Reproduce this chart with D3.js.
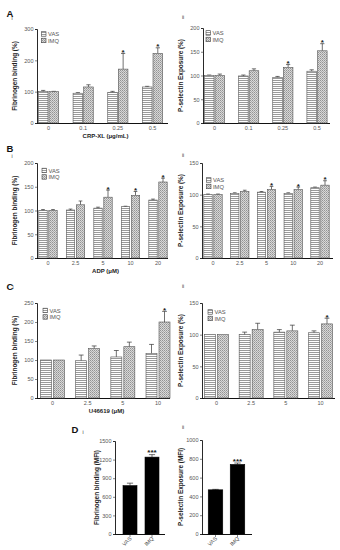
<!DOCTYPE html>
<html>
<head>
<meta charset="utf-8">
<script src="https://cdn.jsdelivr.net/npm/d3@7"></script>
<style>
  body { margin: 0; background: #fff; }
  svg { display: block; font-family: "Liberation Sans", Arial, sans-serif; }
</style>
</head>
<body>
<svg id="chart" width="340" height="550"></svg>
<script>
// categories
var crpDoses = ['0', '0.1', '0.25', '0.5'];
var adpDoses = ['0', '2.5', '5', '10', '20'];
var u4Doses = ['0', '2.5', '5', '10'];
var groups = ['VAS', 'IMQ'];

// A: CRP-XL
var aFibVas = [100, 95, 98, 115], aFibVasErr = [4, 2, 3, 2];
var aFibImq = [100, 115, 172, 222], aFibImqErr = [1, 7, 50, 18];
var aFibStar = ['', '', '*', '*'];
var aPselVas = [100, 99, 96, 109], aPselVasErr = [1, 2, 2, 3];
var aPselImq = [100, 110, 117, 152], aPselImqErr = [3, 4, 6, 15];
var aPselStar = ['', '', '*', '*'];

// B: ADP
var bFibVas = [100, 101, 105, 108, 122], bFibVasErr = [2, 2, 2, 1, 2];
var bFibImq = [100, 112, 128, 132, 160], bFibImqErr = [2, 8, 15, 8, 8];
var bFibStar = ['', '', '*', '*', '*'];
var bPselVas = [100, 102, 104, 102, 111], bPselVasErr = [1, 1, 1, 1, 1];
var bPselImq = [100, 105, 108, 108, 115], bPselImqErr = [1, 2, 5, 4, 7];
var bPselStar = ['', '', '*', '*', '*'];

// C: U46619
var cFibVas = [100, 98, 108, 117], cFibVasErr = [0, 15, 17, 24];
var cFibImq = [100, 130, 135, 200], cFibImqErr = [0, 7, 12, 28];
var cFibStar = ['', '', '', '*'];
var cPselVas = [100, 100, 104, 103], cPselVasErr = [0, 4, 4, 3];
var cPselImq = [100, 108, 106, 117], cPselImqErr = [0, 10, 9, 9];
var cPselStar = ['', '', '', '*'];

// D: MFI
var dFib = [780, 1240], dFibErr = [40, 40], dFibStar = ['', '***'];
var dPsel = [470, 740], dPselErr = [5, 15], dPselStar = ['', '***'];

var svg = d3.select('#chart');
var defs = svg.append('defs');

// horizontal stripes for VAS
var pv = defs.append('pattern').attr('id', 'vas').attr('patternUnits', 'userSpaceOnUse')
  .attr('width', 4).attr('height', 2);
pv.append('rect').attr('width', 4).attr('height', 2).attr('fill', '#fff');
pv.append('rect').attr('width', 4).attr('height', 1).attr('fill', '#9a9a9a');

// fine crosshatch for IMQ
var pi = defs.append('pattern').attr('id', 'imq').attr('patternUnits', 'userSpaceOnUse')
  .attr('width', 2).attr('height', 2);
pi.append('rect').attr('width', 2).attr('height', 2).attr('fill', '#d8d8d8');
pi.append('rect').attr('width', 1).attr('height', 1).attr('fill', '#939393');
pi.append('rect').attr('x', 1).attr('y', 1).attr('width', 1).attr('height', 1).attr('fill', '#ababab');

var fills = ['url(#vas)', 'url(#imq)'];

function drawPanel(p) {
  var g = svg.append('g');
  var y = d3.scaleLinear().domain([0, p.max]).range([p.bottom, p.top]);
  var x = d3.scalePoint().domain(p.cats).range([p.c0, p.c1]);

  // y axis
  var ya = g.append('g').attr('transform', 'translate(' + p.left + ',0)')
    .call(d3.axisLeft(y).tickValues(d3.range(0, p.max + 1, p.step)).tickFormat(d3.format('d'))
      .tickSize(2).tickPadding(1.5));
  ya.select('.domain').attr('stroke', '#111').attr('stroke-width', 0.9);
  ya.selectAll('.tick line').attr('stroke', '#333').attr('stroke-width', 0.6);
  ya.selectAll('.tick text').attr('fill', '#555').style('font-size', '5.5px').style('font-family', 'inherit');

  // x axis line
  g.append('line').attr('x1', p.left).attr('x2', p.right)
    .attr('y1', p.bottom + 0.5).attr('y2', p.bottom + 0.5)
    .attr('stroke', '#111').attr('stroke-width', 1);

  var series = p.series;
  var nS = series.length;
  var bw = p.bw, gap = p.gap;
  function bx(c, s) {
    return x(c) - (nS * bw + (nS - 1) * gap) / 2 + s * (bw + gap);
  }

  series.forEach(function(ser, s) {
    var sg = g.append('g');
    p.cats.forEach(function(c, i) {
      var v = ser.vals[i], e = ser.errs[i];
      var x0 = bx(c, s);
      if (e > 0) {
        sg.append('line').attr('x1', x0 + bw / 2).attr('x2', x0 + bw / 2)
          .attr('y1', y(v)).attr('y2', y(v + e)).attr('stroke', '#333').attr('stroke-width', 0.7);
        sg.append('line').attr('x1', x0 + bw / 2 - bw * 0.22).attr('x2', x0 + bw / 2 + bw * 0.22)
          .attr('y1', y(v + e)).attr('y2', y(v + e)).attr('stroke', '#333').attr('stroke-width', 0.7);
      }
      sg.append('rect').attr('x', x0).attr('y', y(v)).attr('width', bw).attr('height', y(0) - y(v))
        .attr('fill', ser.fill).attr('stroke', ser.stroke || '#555').attr('stroke-width', 0.6);
      var st = ser.stars ? ser.stars[i] : '';
      if (st) {
        sg.append('text').attr('x', x0 + bw / 2).attr('y', y(v + e) - 1.5 + (st.length > 1 ? 2 : 3))
          .attr('text-anchor', 'middle').attr('fill', '#222').style('font-size', '8px').style('font-weight', 'bold')
          .text(st);
      }
    });
  });

  // x tick labels
  if (p.rotate) {
    p.cats.forEach(function(c) {
      g.append('line').attr('x1', x(c)).attr('x2', x(c)).attr('y1', p.bottom + 1).attr('y2', p.bottom + 3)
        .attr('stroke', '#333').attr('stroke-width', 0.6);
      g.append('text').attr('transform', 'translate(' + (x(c) + 2) + ',' + (p.bottom + 5) + ') rotate(-45)')
        .attr('text-anchor', 'end').attr('fill', '#555').style('font-size', '5.5px').text(c);
    });
  } else {
    p.cats.forEach(function(c) {
      g.append('text').attr('x', x(c)).attr('y', p.bottom + 7).attr('text-anchor', 'middle')
        .attr('fill', '#555').style('font-size', '5.5px').text(c);
    });
  }

  // axis titles
  g.append('text').attr('transform', 'translate(' + p.ytx + ',' + ((p.top + p.bottom) / 2) + ') rotate(-90)')
    .attr('text-anchor', 'middle').attr('fill', '#222').style('font-size', '6.4px').style('font-weight', 'bold')
    .text(p.ytitle);
  if (p.xtitle) {
    g.append('text').attr('x', (p.left + p.right) / 2 + 3).attr('y', p.bottom + 15).attr('text-anchor', 'middle')
      .attr('fill', '#222').style('font-size', '6px').style('font-weight', 'bold').text(p.xtitle);
  }

  // legend
  if (p.legend) {
    groups.forEach(function(gn, k) {
      var ly = p.legend[1] + k * 6.5;
      g.append('rect').attr('x', p.legend[0]).attr('y', ly - 2.3).attr('width', 4.5).attr('height', 4.5)
        .attr('fill', fills[k]).attr('stroke', '#444').attr('stroke-width', 0.6);
      g.append('text').attr('x', p.legend[0] + 6.5).attr('y', ly + 2).attr('fill', '#555')
        .style('font-size', '5.8px').text(gn);
    });
  }

  // sub-panel label
  g.append('text').attr('x', p.sub[0]).attr('y', p.sub[1]).attr('fill', '#333')
    .style('font-size', '5px').text(p.subText);
}

function pair(vas, vasErr, imq, imqErr, stars) {
  return [
    { vals: vas, errs: vasErr, fill: fills[0] },
    { vals: imq, errs: imqErr, fill: fills[1], stars: stars }
  ];
}

var panels = [
  { cats: crpDoses, series: pair(aFibVas, aFibVasErr, aFibImq, aFibImqErr, aFibStar), max: 300, step: 100,
    left: 37, right: 168, top: 29, bottom: 123, c0: 48.5, c1: 152.5, bw: 9.6, gap: 1,
    ytitle: 'Fibrinogen binding (%)', ytx: 17, xtitle: 'CRP-XL (μg/mL)', legend: [41.5, 34], sub: [11.5, 20], subText: 'i' },
  { cats: crpDoses, series: pair(aPselVas, aPselVasErr, aPselImq, aPselImqErr, aPselStar), max: 200, step: 50,
    left: 203, right: 330, top: 28, bottom: 123, c0: 214.5, c1: 317, bw: 9.6, gap: 1,
    ytitle: 'P-selectin Exposure (%)', ytx: 183, legend: [206, 33], sub: [182, 19], subText: 'ii' },
  { cats: adpDoses, series: pair(bFibVas, bFibVasErr, bFibImq, bFibImqErr, bFibStar), max: 200, step: 50,
    left: 37, right: 168, top: 163, bottom: 258, c0: 48, c1: 158, bw: 8.4, gap: 1.6,
    ytitle: 'Fibrinogen binding (%)', ytx: 17, xtitle: 'ADP (μM)', legend: [42, 170.5], sub: [11.5, 158], subText: 'i' },
  { cats: adpDoses, series: pair(bPselVas, bPselVasErr, bPselImq, bPselImqErr, bPselStar), max: 150, step: 50,
    left: 202, right: 333, top: 163, bottom: 258, c0: 213, c1: 320, bw: 8.4, gap: 1.6,
    ytitle: 'P-selectin Exposure (%)', ytx: 183, legend: [206.5, 180], sub: [182, 157], subText: 'ii' },
  { cats: u4Doses, series: pair(cFibVas, cFibVasErr, cFibImq, cFibImqErr, cFibStar), max: 250, step: 50,
    left: 37, right: 170, top: 303, bottom: 398, c0: 52.5, c1: 158, bw: 11, gap: 2,
    ytitle: 'Fibrinogen binding (%)', ytx: 17, xtitle: 'U46619 (μM)', legend: [43, 310.5], sub: [12.5, 289], subText: 'i' },
  { cats: u4Doses, series: pair(cPselVas, cPselVasErr, cPselImq, cPselImqErr, cPselStar), max: 150, step: 50,
    left: 202, right: 335, top: 303, bottom: 398, c0: 216.5, c1: 320.5, bw: 11, gap: 2,
    ytitle: 'P-selectin Exposure (%)', ytx: 183, legend: [208, 312], sub: [182, 288], subText: 'ii' },
  { cats: groups, series: [{ vals: dFib, errs: dFibErr, fill: '#000', stroke: '#000', stars: dFibStar }],
    max: 1500, step: 300, left: 115, right: 165, top: 441, bottom: 534, c0: 130, c1: 152, bw: 14, gap: 0, rotate: true,
    ytitle: 'Fibrinogen binding (MFI)', ytx: 99, sub: [82.5, 434], subText: 'i' },
  { cats: groups, series: [{ vals: dPsel, errs: dPselErr, fill: '#000', stroke: '#000', stars: dPselStar }],
    max: 1000, step: 200, left: 202, right: 252, top: 440, bottom: 534, c0: 215.5, c1: 237.5, bw: 14.5, gap: 0, rotate: true,
    ytitle: 'P-selectin Exposure (MFI)', ytx: 183, sub: [182, 429], subText: 'ii' }
];

panels.forEach(drawPanel);

// panel letters
var letters = [['A', 6.5, 16.5], ['B', 6.5, 151.5], ['C', 6.5, 290], ['D', 71.5, 432.5]];
svg.selectAll('text.letter').data(letters).enter().append('text').attr('class', 'letter')
  .attr('x', function(d) { return d[1]; }).attr('y', function(d) { return d[2]; })
  .attr('fill', '#111').style('font-size', '9.5px').style('font-weight', 'bold')
  .text(function(d) { return d[0]; });
</script>
</body>
</html>
